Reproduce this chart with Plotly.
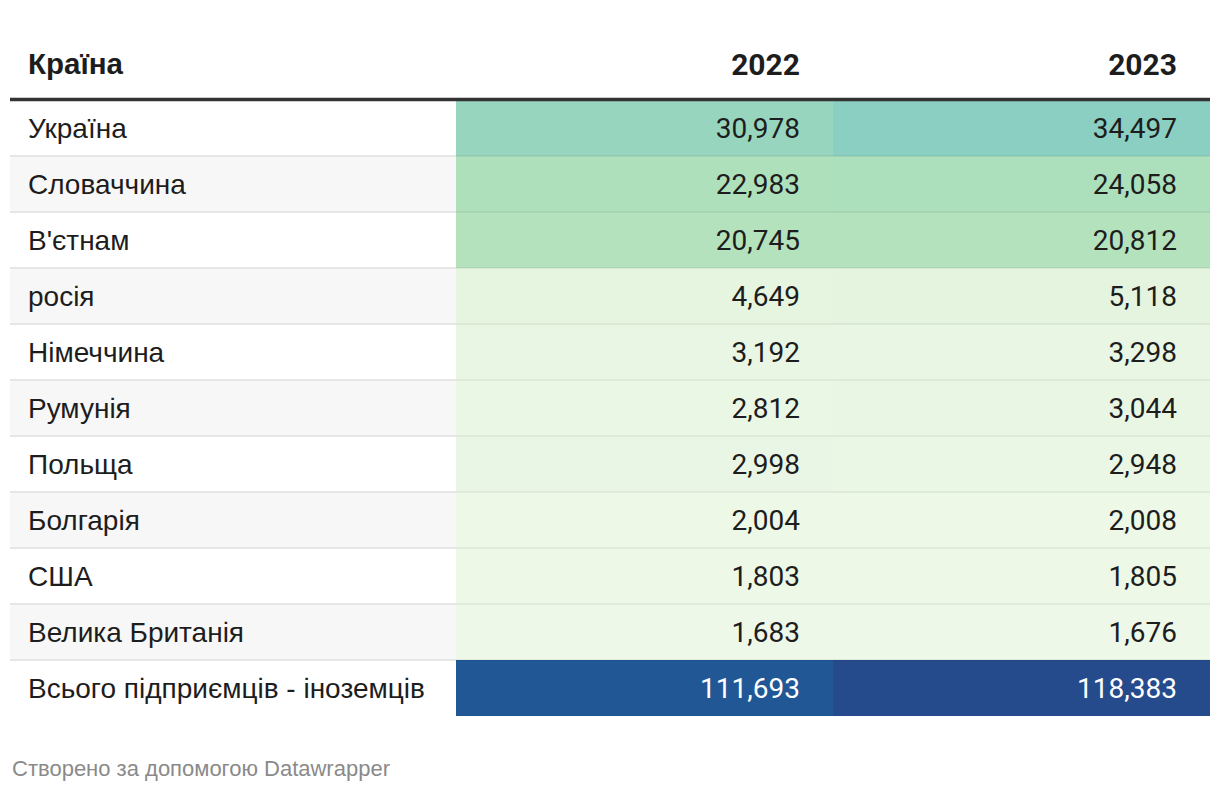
import plotly.graph_objects as go

# дані
countries = ["Україна", "Словаччина", "В'єтнам", "росія", "Німеччина", "Румунія",
             "Польща", "Болгарія", "США", "Велика Британія", "Всього підприємців - іноземців"]
values_2022 = [30978, 22983, 20745, 4649, 3192, 2812, 2998, 2004, 1803, 1683, 111693]
values_2023 = [34497, 24058, 20812, 5118, 3298, 3044, 2948, 2008, 1805, 1676, 118383]
headers = ["Країна", "2022", "2023"]
footer = "Створено за допомогою Datawrapper"

# шкала кольорів (значення -> колір)
color_stops = [(1600, "#eef8e8"), (5200, "#e4f4df"), (20700, "#b4e2bd"), (24100, "#acdfbb"),
               (31000, "#97d5bf"), (34500, "#8acfc1"), (111700, "#225796"), (118400, "#264b8c")]
zmin, zmax = color_stops[0][0], color_stops[-1][0]
colorscale = [[(v - zmin) / (zmax - zmin), c] for v, c in color_stops]

W, H = 1220, 792
row_h = 56
first_row_center = 128  # px
col_edges = [0, 446, 823, 1200]
text_color = "#1d1d1d"
label_font = "Liberation Sans, Arial, sans-serif"
num_font = "Roboto, sans-serif"
text_shift = 3  # px, текст трохи нижче центру


def py(px):
    # піксель -> координата осі y
    return (px - first_row_center) / row_h


n = len(countries)
rows = list(range(n))
text_rows = [r + text_shift / row_h for r in rows]

fig = go.Figure()

# смуги першої колонки
fig.add_trace(go.Heatmap(
    x=col_edges[:2], y=[i - 0.5 for i in range(n + 1)],
    z=[[i % 2] for i in rows], colorscale=[[0, "#ffffff"], [1, "#f7f7f7"]],
    showscale=False, hoverinfo="skip", zmin=0, zmax=1))

# кольорові клітинки
fig.add_trace(go.Heatmap(
    x=col_edges[1:], y=[i - 0.5 for i in range(n + 1)],
    z=[[a, b] for a, b in zip(values_2022, values_2023)],
    colorscale=colorscale, zmin=zmin, zmax=zmax,
    showscale=False, hoverinfo="skip"))

# роздільники рядків
for i in range(n - 1):
    fig.add_shape(type="line", x0=col_edges[0], x1=col_edges[1], y0=i + 0.5, y1=i + 0.5,
                  line=dict(color="#e6e6e6", width=2))
    fig.add_shape(type="line", x0=col_edges[1], x1=col_edges[3], y0=i + 0.5, y1=i + 0.5,
                  line=dict(color="rgba(0,0,0,0.05)", width=2))

# лінія під заголовком
fig.add_shape(type="line", x0=col_edges[0], x1=col_edges[3], y0=-0.5 - 0.5 / row_h, y1=-0.5 - 0.5 / row_h,
              line=dict(color="#333333", width=3.5))

pad_l, pad_r = 18, 33
body_colors = [text_color] * (n - 1) + ["#ffffff"]

fig.add_trace(go.Scatter(
    x=[col_edges[0] + pad_l] * n, y=text_rows, mode="text", text=countries,
    textposition="middle right", hoverinfo="skip",
    textfont=dict(family=label_font, size=28, color=text_color)))

for k, vals in enumerate([values_2022, values_2023]):
    fig.add_trace(go.Scatter(
        x=[col_edges[k + 2] - pad_r] * n, y=text_rows, mode="text",
        text=[f"{v:,}" for v in vals], textposition="middle left", hoverinfo="skip",
        textfont=dict(family=num_font, size=28, color=body_colors)))

# заголовки
fig.add_trace(go.Scatter(
    x=[col_edges[0] + pad_l], y=[py(64 + text_shift)], mode="text", text=[f"<b>{headers[0]}</b>"],
    textposition="middle right", hoverinfo="skip",
    textfont=dict(family=label_font, size=29.5, color=text_color)))
fig.add_trace(go.Scatter(
    x=[col_edges[2] - pad_r, col_edges[3] - pad_r], y=[py(64 + text_shift)] * 2, mode="text",
    text=[f"<b>{h}</b>" for h in headers[1:]], textposition="middle left", hoverinfo="skip",
    textfont=dict(family=num_font, size=30, color=text_color)))

fig.add_annotation(text=footer, xref="x", yref="y", x=0, y=py(768), xanchor="left",
                   yanchor="middle", showarrow=False,
                   font=dict(family=label_font, size=22, color="#8a8a8a"))

fig.update_xaxes(range=[0, 1200], visible=False, fixedrange=True)
fig.update_yaxes(range=[py(H), py(0)], visible=False, fixedrange=True)
fig.update_layout(width=W, height=H, margin=dict(l=10, r=10, t=0, b=0),
                  plot_bgcolor="#ffffff", paper_bgcolor="#ffffff", showlegend=False)

fig.write_html("out.html", config={"displayModeBar": False},
               post_script="document.body.style.margin='0';")
